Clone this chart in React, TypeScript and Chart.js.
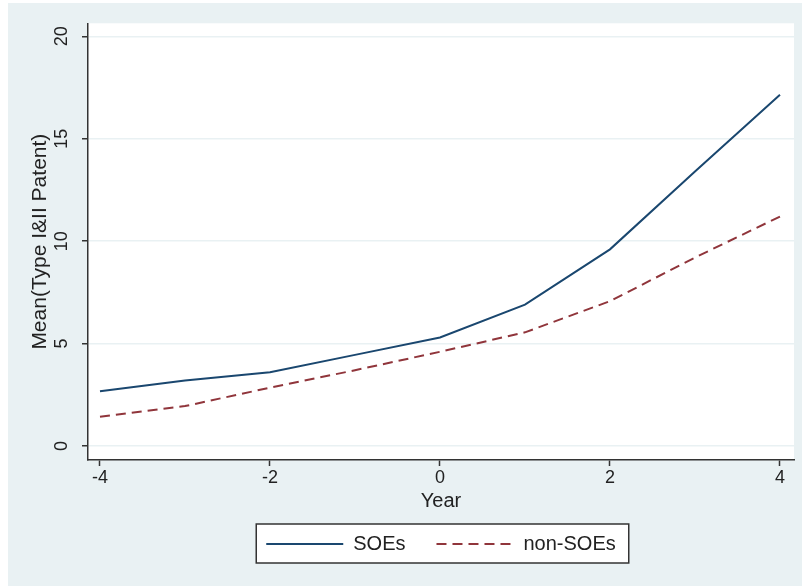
import React, { useEffect, useRef } from "react";
import { Chart, registerables } from "chart.js";

Chart.register(...registerables);

const years = [-4, -3, -2, -1, 0, 1, 2, 3, 4];
const soes = [2.68, 3.2, 3.6, 4.45, 5.3, 6.9, 9.6, 13.4, 17.15];
const nonSoes = [1.43, 1.95, 2.85, 3.7, 4.6, 5.55, 7.07, 9.2, 11.2];
const xTicks = [-4, -2, 0, 2, 4];
const yTicks = [0, 5, 10, 15, 20];
const seriesLabels = ["SOEs", "non-SOEs"];
const xTitle = "Year";
const yTitle = "Mean(Type I&II Patent)";

const FONT = "'Liberation Sans', Arial, Helvetica, sans-serif";
const TEXT = "#222222";
const BG = "#E9F1F3";
const AXIS = "#333333";

const bgPlugin = {
  id: "stataBg",
  beforeDraw(chart: any) {
    const { ctx, chartArea } = chart;
    ctx.save();
    ctx.fillStyle = "#ffffff";
    ctx.fillRect(chartArea.left, chartArea.top, chartArea.right - chartArea.left, chartArea.bottom - chartArea.top);
    const lg = chart.legend;
    if (lg && lg.legendHitBoxes && lg.legendHitBoxes.length) {
      const hb = lg.legendHitBoxes;
      const last = hb[hb.length - 1];
      const l = hb[0].left - 10;
      const r = last.left + last.width + 13;
      const t = hb[0].top - 10;
      const b = hb[0].top + hb[0].height + 9;
      ctx.fillRect(l, t, r - l, b - t);
      ctx.strokeStyle = AXIS;
      ctx.lineWidth = 1.5;
      ctx.strokeRect(l, t, r - l, b - t);
    }
    ctx.restore();
  },
};

export default function App() {
  const ref = useRef<HTMLCanvasElement>(null);
  useEffect(() => {
    if (!ref.current) return;
    const chart = new Chart(ref.current, {
      type: "line",
      data: {
        datasets: [
          {
            label: seriesLabels[0],
            data: years.map((x, i) => ({ x, y: soes[i] })),
            borderColor: "#1A476F",
            borderWidth: 2,
            pointRadius: 0,
            tension: 0,
            fill: false,
          },
          {
            label: seriesLabels[1],
            data: years.map((x, i) => ({ x, y: nonSoes[i] })),
            borderColor: "#90353B",
            borderWidth: 2,
            borderDash: [10, 6],
            pointRadius: 0,
            tension: 0,
            fill: false,
          },
        ],
      },
      options: {
        animation: false,
        responsive: false,
        devicePixelRatio: 1,
        layout: { padding: { top: 19, right: 8, bottom: 22, left: 0 } },
        plugins: {
          tooltip: { enabled: false },
          legend: {
            position: "bottom",
            fullSize: false,
            labels: {
              usePointStyle: true,
              pointStyle: "line",
              pointStyleWidth: 77,
              padding: 31,
              color: TEXT,
              font: { family: FONT, size: 20 },
              generateLabels: (ch: any) =>
                ch.data.datasets.map((ds: any, i: number) => ({
                  text: ds.label,
                  fillStyle: ds.borderColor,
                  strokeStyle: ds.borderColor,
                  lineWidth: 2,
                  lineDash: ds.borderDash || [],
                  pointStyle: "line",
                  hidden: false,
                  datasetIndex: i,
                  fontColor: TEXT,
                })),
            },
          },
        },
        scales: {
          x: {
            type: "linear",
            min: -4.141,
            max: 4.165,
            afterBuildTicks: (s: any) => {
              s.ticks = xTicks.map((v) => ({ value: v }));
            },
            afterFit: (s: any) => {
              s.height = 43;
            },
            border: { display: true, color: AXIS, width: 1.5 },
            grid: {
              display: true,
              drawOnChartArea: false,
              drawTicks: true,
              tickLength: 6,
              tickColor: AXIS,
              tickWidth: 1.5,
            },
            ticks: {
              color: TEXT,
              font: { family: FONT, size: 18 },
              padding: 1,
              maxRotation: 0,
              minRotation: 0,
              callback: (v: any) => String(v),
            },
            title: {
              display: true,
              text: xTitle,
              color: TEXT,
              font: { family: FONT, size: 20 },
              padding: { top: 0, bottom: -10 },
            },
          },
          y: {
            type: "linear",
            min: -0.681,
            max: 20.633,
            afterBuildTicks: (s: any) => {
              s.ticks = yTicks.map((v) => ({ value: v }));
            },
            afterFit: (s: any) => {
              s.width = 80;
            },
            border: { display: true, color: AXIS, width: 1.5 },
            grid: {
              display: true,
              drawOnChartArea: true,
              color: BG,
              lineWidth: 1.5,
              drawTicks: true,
              tickLength: 6,
              tickColor: AXIS,
              tickWidth: 1.5,
            },
            ticks: {
              color: TEXT,
              font: { family: FONT, size: 18 },
              padding: 9.5,
              minRotation: 90,
              maxRotation: 90,
              crossAlign: "center",
              callback: (v: any) => String(v),
            },
            title: {
              display: true,
              text: yTitle,
              color: TEXT,
              font: { family: FONT, size: 21 },
              padding: { top: 20, bottom: 0 },
            },
          },
        },
      },
      plugins: [bgPlugin],
    } as any);
    return () => chart.destroy();
  }, []);

  return (
    <div
      style={{
        position: "absolute",
        left: 8,
        top: 3,
        width: 794,
        height: 583,
        background: BG,
      }}
    >
      <canvas ref={ref} width={794} height={583} style={{ width: 794, height: 583, display: "block" }} />
    </div>
  );
}
